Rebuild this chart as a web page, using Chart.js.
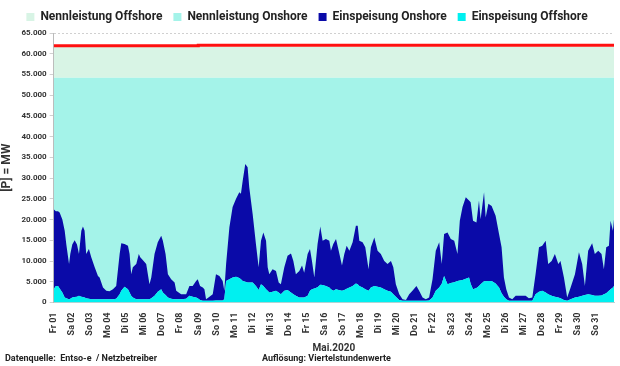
<!DOCTYPE html>
<html>
<head>
<meta charset="utf-8">
<script src="https://cdn.jsdelivr.net/npm/chart.js@4.4.1/dist/chart.umd.min.js"></script>
<style>
  body { margin: 0; background: #fff; }
  #wrap { position: relative; width: 620px; height: 366px; }
  .fuss { position: absolute; top: 353px; font: bold 9px Roboto, sans-serif; color: #222; white-space: pre; }
</style>
</head>
<body>
<div id="wrap">
  <canvas id="chart" width="620" height="366"></canvas>
  <div class="fuss" style="left:5px">Datenquelle:  Entso-e  / Netzbetreiber</div>
  <div class="fuss" style="left:262px">Auflösung: Viertelstundenwerte</div>
</div>
<script>
// Tage im Mai 2020 (Achsenbeschriftung)
var tage = ["Fr 01","Sa 02","So 03","Mo 04","Di 05","Mi 06","Do 07","Fr 08","Sa 09","So 10",
  "Mo 11","Di 12","Mi 13","Do 14","Fr 15","Sa 16","So 17","Mo 18","Di 19","Mi 20",
  "Do 21","Fr 22","Sa 23","So 24","Mo 25","Di 26","Mi 27","Do 28","Fr 29","Sa 30","So 31"];

// Zeitpunkte in Tagen ab 01.05. 00:00
var zeit = [0,0.12,0.24,0.33,0.48,0.61,0.70,0.85,0.92,1.03,1.16,1.29,1.40,1.53,1.62,1.71,1.80,1.95,
  2.08,2.27,2.45,2.54,2.73,2.91,3.09,3.28,3.46,3.65,3.74,3.92,4.11,4.20,4.29,4.38,4.57,4.71,4.79,4.94,
  5.12,5.30,5.40,5.58,5.76,5.95,6.04,6.19,6.32,6.50,6.69,6.78,7.05,7.33,7.51,7.69,7.88,7.97,
  8.10,8.25,8.34,8.43,8.62,8.80,8.98,9.17,9.35,9.44,9.54,9.72,9.90,10.09,10.27,10.36,10.46,10.60,10.73,10.82,
  11.01,11.19,11.34,11.47,11.60,11.75,11.84,11.93,12.11,12.30,12.45,12.57,12.76,12.94,
  13.13,13.26,13.40,13.59,13.74,13.86,14.05,14.18,14.29,14.42,14.60,14.75,14.88,
  15.06,15.25,15.34,15.47,15.62,15.77,15.95,16.08,16.21,16.36,16.54,16.72,16.82,16.91,
  17.09,17.24,17.42,17.55,17.74,17.92,18.10,18.29,18.47,18.66,18.79,18.93,
  19.12,19.30,19.49,19.67,19.85,20.07,20.22,20.41,20.59,20.77,20.96,
  21.14,21.33,21.47,21.60,21.79,21.97,22.16,22.34,22.47,22.62,22.80,22.98,
  23.07,23.20,23.39,23.53,23.62,23.81,23.90,24.05,24.23,24.45,24.64,24.78,24.91,
  25.04,25.19,25.37,25.56,25.83,26.11,26.29,26.48,26.66,26.85,
  27.03,27.22,27.36,27.55,27.73,27.92,28.04,28.23,28.41,28.60,28.84,
  29.06,29.24,29.39,29.57,29.79,29.94,30.13,30.31,30.44,30.57,30.72,30.81,30.94,31.00];

// Einspeisung gesamt (Oberkante dunkelblau) in MW
var einspeisungGesamt = [22500,22000,22000,21700,20000,17300,14000,9300,11700,14000,15000,14000,11700,17300,18300,17300,11700,12900,
  10900,8500,6400,6000,3600,2800,2700,3200,4000,11700,14300,14100,13700,11700,6800,8500,9300,11700,10900,10200,
  9300,4400,6000,11700,14500,16100,14900,11700,6800,5600,4800,2800,2000,2000,4000,4000,5200,5600,
  4000,3600,3200,800,1400,2000,6800,6400,5200,2800,9300,18100,23000,25000,26600,26200,29400,33400,32600,27800,
  21300,14100,8500,14900,16900,14900,8500,6800,8000,7600,4800,4400,8500,11300,
  11800,10000,6800,7600,8900,7200,11700,12900,10000,6000,14100,18300,14900,
  15300,14900,12500,14100,15300,12500,8900,11700,13700,12500,14500,18500,18500,14900,
  14500,13300,8000,13300,15700,12500,11700,10000,9300,10000,8500,4400,
  2000,800,600,2000,2800,4000,2800,1200,800,1200,5600,
  12500,14500,9300,16500,16900,15300,14900,11700,19700,23000,25400,24600,
  24200,19700,19300,24600,20100,26600,20500,23800,23300,20900,16500,13300,6000,
  3200,1200,800,1600,1600,1600,1000,1200,6800,13300,
  13700,14900,9300,10000,11700,9300,10000,6000,1200,3600,6800,
  12100,9300,4000,12500,14300,11700,12500,11700,8000,13300,13700,19700,17300,20100];

// Einspeisung Offshore in MW
var einspeisungOffshore = [3200,4000,4000,3400,2400,1200,1000,800,900,1200,1300,1400,1600,1400,1300,1200,1000,900,
  800,800,800,800,800,800,800,800,900,2000,2800,3800,3200,2400,1600,1200,800,800,800,800,
  800,800,1000,1600,2600,3200,2400,1800,1200,900,800,800,800,900,1600,1400,1200,1000,
  600,400,400,400,400,400,500,500,500,800,5200,5600,6000,6200,5900,5600,5200,5000,4800,4800,
  4800,4000,3000,4400,4000,3200,2800,2400,2600,2800,2400,2000,2800,3000,
  2400,2000,1600,1200,1200,1200,1600,2800,3200,3400,3700,4300,4200,
  4000,3600,3200,2800,3200,3000,2800,3000,3300,3600,4000,4600,4400,4000,
  3600,3200,2800,3600,4000,3800,3600,3200,2800,2600,2000,1400,
  600,400,400,400,400,400,400,400,400,500,1200,
  2800,3600,4500,6400,4400,4700,4900,5200,5300,5400,5700,6000,
  4500,3200,3500,4000,4400,5100,5100,5200,5200,4600,3600,2200,1400,
  800,400,400,400,400,400,400,400,2000,2600,
  2800,2400,2000,1600,1400,1200,1000,600,400,800,1200,
  1400,1600,1800,2000,1800,1600,1600,1700,2000,2200,2800,3200,3600,4000];

// Einspeisung Onshore = Gesamt minus Offshore
var einspeisungOnshore = einspeisungGesamt.map(function (g, i) { return g - einspeisungOffshore[i]; });

// Installierte Leistung in MW
var kapZeit = [0, 31];
var nennleistungOnshore = [54200, 54200];
var nennleistungOffshore = [7500, 7500];
var summeZeit = [0, 8, 8, 31];
var summeLeistung = [61900, 61900, 62050, 62050];

function punkte(x, y) {
  return x.map(function (t, i) { return { x: t, y: y[i] }; });
}

function tausender(v) {
  return String(v).replace(/\B(?=(\d{3})+(?!\d))/g, ".");
}

Chart.defaults.font.family = "Roboto, sans-serif";
Chart.defaults.color = "#333";

new Chart(document.getElementById("chart"), {
  type: "line",
  data: {
    datasets: [
      {
        label: "Summe",
        data: punkte(summeZeit, summeLeistung),
        stack: "summe",
        borderColor: "#ff1010",
        borderWidth: 3,
        pointRadius: 0,
        fill: false
      },
      {
        label: "Einspeisung Offshore",
        data: punkte(zeit, einspeisungOffshore),
        stack: "ein",
        borderWidth: 0,
        borderColor: "#00f0f0",
        backgroundColor: "#00f0f0",
        pointRadius: 0,
        fill: "origin"
      },
      {
        label: "Einspeisung Onshore",
        data: punkte(zeit, einspeisungOnshore),
        stack: "ein",
        borderWidth: 0,
        borderColor: "#0a0aa8",
        backgroundColor: "#0a0aa8",
        pointRadius: 0,
        fill: 1
      },
      {
        label: "Nennleistung Onshore",
        data: punkte(kapZeit, nennleistungOnshore),
        stack: "kap",
        borderWidth: 0,
        borderColor: "#a4f3e9",
        backgroundColor: "#a4f3e9",
        pointRadius: 0,
        fill: "origin"
      },
      {
        label: "Nennleistung Offshore",
        data: punkte(kapZeit, nennleistungOffshore),
        stack: "kap",
        borderWidth: 0,
        borderColor: "#d8f4e5",
        backgroundColor: "#d8f4e5",
        pointRadius: 0,
        fill: 3
      }
    ]
  },
  options: {
    responsive: false,
    animation: false,
    layout: { padding: { left: 0, right: 6, top: 0, bottom: 12 } },
    elements: { line: { tension: 0 } },
    plugins: {
      tooltip: { enabled: false },
      legend: {
        labels: {
          boxWidth: 8,
          boxHeight: 8,
          padding: 11,
          color: "#222",
          font: { size: 12, weight: "bold" },
          filter: function (item) { return item.datasetIndex !== 0; },
          sort: function (a, b) { return b.datasetIndex - a.datasetIndex; }
        }
      }
    },
    scales: {
      x: {
        type: "linear",
        min: 0,
        max: 31,
        grid: { display: false },
        border: { color: "#ccc" },
        afterFit: function (scale) { scale.paddingRight = 0; },
        ticks: {
          stepSize: 1,
          autoSkip: false,
          minRotation: 90,
          maxRotation: 90,
          padding: 2,
          font: { size: 9, weight: "bold" },
          callback: function (v) { return tage[v] || ""; }
        },
        title: { display: true, text: "Mai.2020", font: { size: 10, weight: "bold" }, padding: { top: 2, bottom: 0 } }
      },
      y: {
        stacked: true,
        min: 0,
        max: 65000,
        grid: { color: "#d0d0d0", tickLength: 4 },
        border: { color: "#bbb", dash: [2, 2] },
        ticks: {
          stepSize: 2500,
          font: { size: 8, weight: "bold" },
          callback: function (v) { return v % 5000 === 0 ? tausender(v) : ""; }
        },
        title: { display: true, text: "[P] = MW", font: { size: 12, weight: "bold" }, padding: { top: 0, bottom: 4 } }
      }
    }
  }
});
</script>
</body>
</html>
